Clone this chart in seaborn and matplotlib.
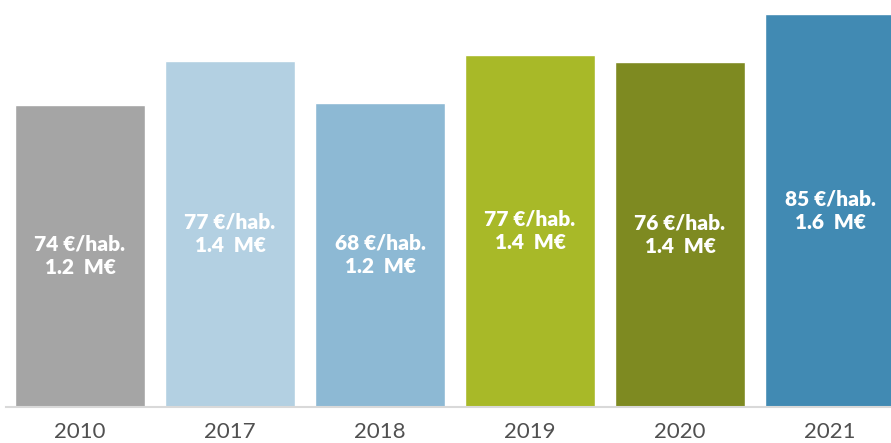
import matplotlib
matplotlib.use("Agg")
import matplotlib.pyplot as plt
import seaborn as sns
import pandas as pd

years = ["2010", "2017", "2018", "2019", "2020", "2021"]
amount_meur = [1.202, 1.377, 1.210, 1.401, 1.373, 1.565]
per_inhab_label = ["74 €/hab.", "77 €/hab.", "68 €/hab.", "77 €/hab.", "76 €/hab.", "85 €/hab."]
meur_label = ["1.2  M€", "1.4  M€", "1.2  M€", "1.4  M€", "1.4  M€", "1.6  M€"]
colors = ["#A5A5A5", "#B3D0E2", "#8DB9D4", "#A8B928", "#7E8A21", "#418AB3"]

df = pd.DataFrame({"year": years, "value": amount_meur})

sns.set_theme(style="white")
plt.rcParams["font.family"] = ["Lato", "DejaVu Sans"]

fig = plt.figure(figsize=(8.91, 4.43), dpi=100)
ax = fig.add_axes([6 / 891, 36 / 443, 1 - 6 / 891, 407 / 443])

sns.barplot(data=df, x="year", y="value", hue="year", palette=colors,
            width=130 / 150, legend=False, ax=ax, saturation=1)

ax.set_xlim(-0.493, 5.407)
ax.set_ylim(0, 1.62)
for s in ["top", "right", "left"]:
    ax.spines[s].set_visible(False)
ax.spines["bottom"].set_color("#D9D9D9")
ax.spines["bottom"].set_linewidth(1.5)
ax.set_yticks([])
ax.set_xlabel("")
ax.set_ylabel("")
ax.tick_params(axis="x", length=0, labelsize=16, labelcolor="#505050", pad=11)

for i, (v, l1, l2) in enumerate(zip(amount_meur, per_inhab_label, meur_label)):
    ax.text(i, v / 2, l1 + "\n" + l2, ha="center", va="center", color="white",
            fontsize=15, fontweight="heavy", linespacing=1.3)

fig.savefig("out.png", dpi=100)
